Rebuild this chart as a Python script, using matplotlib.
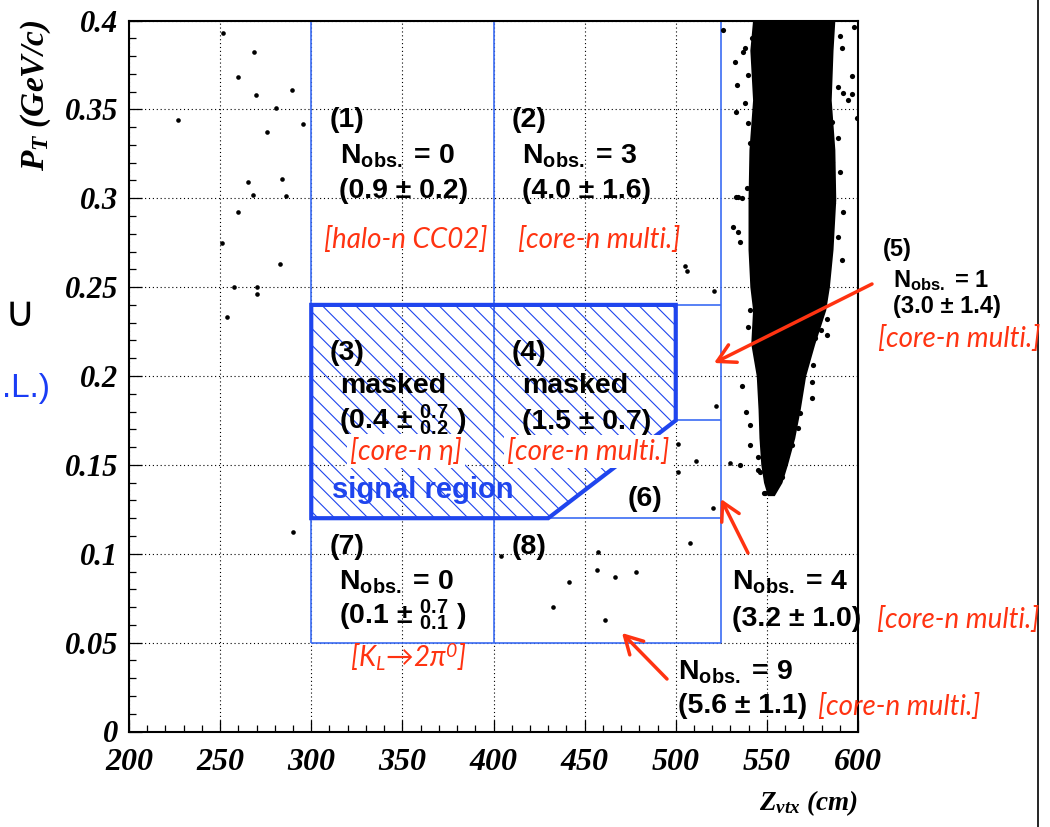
import numpy as np
import matplotlib
matplotlib.use("Agg")
import matplotlib.pyplot as plt
from matplotlib.patches import Polygon
from matplotlib.lines import Line2D

plt.rcParams['mathtext.fontset'] = 'custom'
plt.rcParams['mathtext.it'] = 'Liberation Serif:bold:italic'
plt.rcParams['mathtext.sf'] = 'Liberation Sans:bold'
plt.rcParams['mathtext.bf'] = 'Liberation Sans:bold'
plt.rcParams['mathtext.rm'] = 'Lato:italic'
plt.rcParams['hatch.linewidth'] = 0.8

W, H = 1050, 827

# ---------------- data ----------------
# isolated events (Z_vtx [cm], P_T [GeV/c])
iso_z = [227.1, 251.7, 268.8, 259.6, 269.7, 289.3, 280.5, 295.6, 275.9, 265.5,
         267.9, 283.8, 286.0, 259.8, 250.9, 282.7, 257.8, 270.1, 270.4, 253.8,
         290.0, 505.0, 506.0, 521.2, 522.1, 501.4, 511.1, 501.4, 520.6, 529.8,
         507.8, 404.0, 457.4, 456.8, 466.5, 478.3, 441.2, 432.8, 461.1]
iso_pt = [0.344, 0.393, 0.382, 0.368, 0.358, 0.361, 0.351, 0.342, 0.337, 0.309,
          0.302, 0.311, 0.301, 0.292, 0.275, 0.263, 0.250, 0.250, 0.246, 0.233,
          0.112, 0.262, 0.259, 0.248, 0.183, 0.162, 0.152, 0.146, 0.126, 0.151,
          0.106, 0.099, 0.101, 0.091, 0.087, 0.0895, 0.084, 0.070, 0.063]

# dense core of the downstream (core neutron) cluster: envelope
core_pt    = [0.400, 0.383, 0.355, 0.327, 0.299, 0.271, 0.250, 0.237, 0.218,
              0.200, 0.181, 0.165, 0.150, 0.140, 0.133]
core_left  = [543.0, 541.5, 543.0, 541.0, 540.5, 540.5, 541.5, 543.0, 542.0,
              545.0, 546.0, 546.5, 547.5, 549.0, 551.0]
core_right = [587.0, 586.0, 585.0, 587.0, 587.5, 586.0, 584.0, 582.0, 576.0,
              571.0, 568.0, 565.0, 561.0, 558.0, 554.0]

# fringe events around the cluster
fr_z = [526.1, 598.0, 541.7, 590.1, 538.0, 591.1, 532.5, 583.7, 539.5, 596.5,
        533.4, 589.2, 591.9, 596.9, 594.7, 538.0, 532.9, 599.6, 585.6, 539.8,
        589.2, 540.7, 585.6, 590.1, 542.6, 538.9, 583.7, 534.3, 543.5, 583.7,
        586.5, 591.9, 531.6, 534.3, 535.3, 541.7, 584.4, 589.2, 591.1, 540.7,
        539.8, 582.8, 574.6, 579.7, 582.8, 576.4, 575.5, 574.9, 536.5, 574.6,
        538.4, 540.7, 568.2, 567.2, 540.7, 563.6, 535.3, 545.0, 560.0, 545.0,
        558.1, 549.0, 551.2, 553.0, 537.0, 532.9, 536.2, 546.2, 548.6]
fr_pt = [0.3947, 0.3965, 0.3903, 0.3915, 0.3844, 0.3844, 0.3768, 0.3787, 0.3693, 0.3688,
         0.3637, 0.3628, 0.3590, 0.3585, 0.3553, 0.3534, 0.3487, 0.3450, 0.3431, 0.3422,
         0.3337, 0.3309, 0.3206, 0.3149, 0.3243, 0.3056, 0.3112, 0.3009, 0.3018, 0.3009,
         0.2972, 0.2924, 0.2840, 0.2812, 0.2756, 0.2868, 0.2812, 0.2784, 0.2653, 0.2371,
         0.2277, 0.2319, 0.2259, 0.2259, 0.2231, 0.2212, 0.2062, 0.1968, 0.1944, 0.1875,
         0.1799, 0.1724, 0.1790, 0.1706, 0.1612, 0.1612, 0.1499, 0.1546, 0.1565, 0.1471,
         0.1433, 0.1340, 0.1359, 0.1405, 0.3820, 0.3009, 0.3000, 0.1460, 0.1340]

# signal region outline (masked boxes 3 and 4)
sig_z  = [300, 300, 500, 500, 430]
sig_pt = [0.12, 0.24, 0.24, 0.175, 0.12]

# thin region boundaries: (z0, z1, pt0, pt1)
box_segments = [
    (300, 525, 0.05, 0.05), (300, 525, 0.40, 0.40),
    (300, 300, 0.05, 0.40), (525, 525, 0.05, 0.40), (400, 400, 0.05, 0.40),
    (300, 525, 0.24, 0.24), (300, 525, 0.12, 0.12), (500, 525, 0.175, 0.175),
    (500, 500, 0.175, 0.24),
]

z_ticks = [200, 250, 300, 350, 400, 450, 500, 550, 600]
pt_ticks = [0, 0.05, 0.1, 0.15, 0.2, 0.25, 0.3, 0.35, 0.4]
pt_labels = ['0', '0.05', '0.1', '0.15', '0.2', '0.25', '0.3', '0.35', '0.4']

# ---------------- figure ----------------
fig = plt.figure(figsize=(W / 100, H / 100), dpi=100)
ax = fig.add_axes([129 / W, (H - 731.5) / H, (858 - 129) / W, (731.5 - 20.5) / H])
ax.set_xlim(200, 600)
ax.set_ylim(0, 0.4)

BLUE_THIN = '#3b6cf4'
BLUE = '#1f45ee'
RED = '#ff3311'

ax.set_xticks(z_ticks)
ax.set_xticklabels([str(t) for t in z_ticks], family='Liberation Serif',
                   weight='bold', style='italic', size=23)
ax.set_yticks(pt_ticks)
ax.set_yticklabels(pt_labels, family='Liberation Serif', weight='bold',
                   style='italic', size=22)
ax.set_xticks(np.arange(200, 601, 10), minor=True)
ax.set_yticks(np.arange(0, 0.4001, 0.01), minor=True)
ax.tick_params(which='major', direction='in', length=9, width=0.9,
               top=False, right=False)
ax.tick_params(axis='x', which='major', pad=12)
ax.tick_params(axis='y', which='major', pad=8)
ax.tick_params(which='minor', direction='in', length=5, width=0.9,
               top=False, right=False)
ax.grid(True, which='major', color='black', linestyle=(0, (1, 2.5)), linewidth=0.8)
ax.set_axisbelow(True)
for sp in ax.spines.values():
    sp.set_linewidth(1.5)

# thin boundaries
for z0, z1, p0, p1 in box_segments:
    ax.plot([z0, z1], [p0, p1], color=BLUE_THIN, lw=1.2, zorder=2, clip_on=False,
            solid_capstyle='butt')

# hatched signal region
hatch = Polygon(np.column_stack([sig_z, sig_pt]), closed=True, facecolor='none',
                edgecolor=BLUE, lw=0, hatch='\\\\', zorder=2)
ax.add_patch(hatch)

# cluster core
core_poly = np.column_stack([core_left + core_right[::-1], core_pt + core_pt[::-1]])
ax.add_patch(Polygon(core_poly, closed=True, facecolor='black', edgecolor='black',
                     lw=1.5, zorder=3))
ax.scatter(fr_z, fr_pt, s=14, color='black', zorder=3, linewidths=0)
ax.scatter(iso_z, iso_pt, s=11, color='black', zorder=3, linewidths=0)

# signal region outline
ax.add_patch(Polygon(np.column_stack([sig_z, sig_pt]), closed=True, facecolor='none',
                     edgecolor=BLUE, lw=3.0, zorder=4, joinstyle='miter'))


def ptxt(px, py, s, **kw):
    return fig.text(px / W, 1 - py / H, s, **kw)


BK = dict(family='Liberation Sans', weight='bold', size=20.5, color='black', va='baseline')
BK5 = dict(family='Liberation Sans', weight='bold', size=17, color='black', va='baseline')
RD = dict(family=['Lato', 'DejaVu Sans'], style='italic', size=20, color=RED, va='baseline')
WB = dict(boxstyle='square,pad=0.1', facecolor='white', edgecolor='none')

NOBS = r'$\mathsf{N_{obs.}}$'

# region 1
ptxt(330, 127, '(1)', **BK)
ptxt(340, 163, NOBS + ' = 0', **BK)
ptxt(339, 198, '(0.9 ± 0.2)', **BK)
ptxt(324, 248, '[halo-n CC02]', **RD)
# region 2
ptxt(512, 127, '(2)', **BK)
ptxt(522, 163, NOBS + ' = 3', **BK)
ptxt(522, 198, '(4.0 ± 1.6)', **BK)
ptxt(518, 248, '[core-n multi.]', **RD)
# region 3
ptxt(330, 360, '(3)', **BK)
ptxt(340, 393, 'masked', **BK)
ptxt(339, 429, r'(0.4 ± $^{\mathsf{0.7}}_{\mathsf{0.2}}$ )', **BK)
ptxt(350, 460, '[core-n η]', bbox=WB, zorder=6, **RD)
ptxt(332, 498, 'signal region', family='Liberation Sans', weight='bold', size=21,
     color=BLUE, va='baseline')
# region 4
ptxt(512, 360, '(4)', **BK)
ptxt(522, 393, 'masked', **BK)
ptxt(522, 429, '(1.5 ± 0.7)', **BK)
ptxt(507, 460, '[core-n multi.]', bbox=WB, zorder=6, **RD)
# region 6
ptxt(628, 506, '(6)', **BK)
ptxt(732, 590, NOBS + ' = 4', **BK)
ptxt(732, 626, '(3.2 ± 1.0)', **BK)
ptxt(877, 628, '[core-n multi.]', **RD)
# region 5
ptxt(883, 256, '(5)', **BK5)
ptxt(893, 287, NOBS + ' = 1', **BK5)
ptxt(893, 313, '(3.0 ± 1.4)', **BK5)
ptxt(878, 347, '[core-n multi.]', **RD)
# region 7
ptxt(330, 554, '(7)', **BK)
ptxt(339, 590, NOBS + ' = 0', **BK)
ptxt(339, 624, r'(0.1 ± $^{\mathsf{0.7}}_{\mathsf{0.1}}$ )', **BK)
ptxt(350, 667, r'[K$_{\mathrm{L}}$→2π$^{\mathrm{0}}$]', **RD)
# region 8
ptxt(512, 554, '(8)', **BK)
ptxt(678, 680, NOBS + ' = 9', **BK)
ptxt(678, 713, '(5.6 ± 1.1)', **BK)
ptxt(818, 715, '[core-n multi.]', **RD)

# arrows
arrows = [((872, 284), (714, 363)), ((748, 553), (721, 499)), ((667, 679), (622, 633))]
for (tx, ty), (hx, hy) in arrows:
    ax.annotate('', xy=(hx, H - hy), xytext=(tx, H - ty), xycoords='figure pixels',
                textcoords='figure pixels',
                arrowprops=dict(arrowstyle='->,head_length=0.9,head_width=0.5',
                                color=RED, lw=2.5, mutation_scale=14,
                                shrinkA=0, shrinkB=0), zorder=7)

# axis titles
ptxt(36, 20, r'$P_T$ (GeV/c)', family='Liberation Serif', weight='bold', style='italic',
     size=24, rotation=90, ha='center', va='top')
ptxt(858, 810, r'$Z_{vtx}$ (cm)', family='Liberation Serif', weight='bold', style='italic',
     size=19.5, ha='right', va='baseline')

# cut-off slide fragments at the left edge
ptxt(20, 314, '∪', family=['DejaVu Sans', 'Noto Sans'], size=30, ha='center',
     va='center', color='black')
ptxt(2, 397, '.L.)', family='Liberation Sans', size=24, ha='left', va='baseline', color='#1a3cf5')

fig.add_artist(Line2D([1038 / W, 1038 / W], [0, 1], color='black', lw=1.2))

fig.savefig('out.png', dpi=100)
